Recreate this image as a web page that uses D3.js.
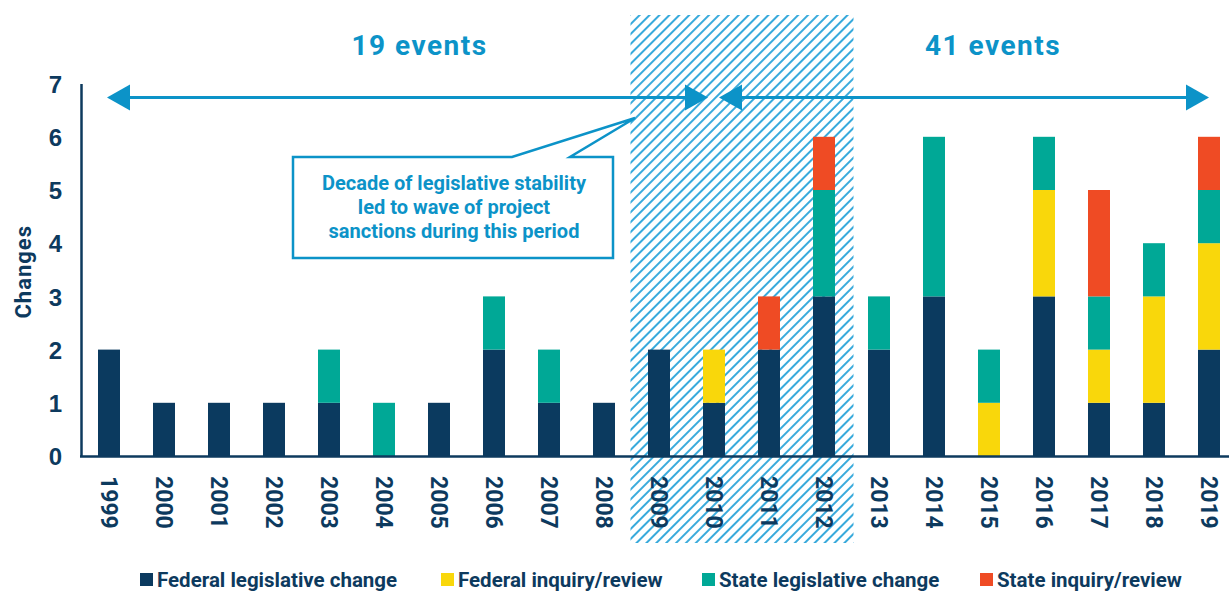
<!DOCTYPE html>
<html lang="en">
<head>
<meta charset="utf-8">
<title>Changes per year</title>
<script src="https://cdn.jsdelivr.net/npm/d3@7"></script>
<style>
  body { margin: 0; background: #fff; }
  svg { display: block; font-family: Roboto, "Liberation Sans", sans-serif; font-weight: 700; }
  .axis text { fill: #0d3a5e; font-size: 24px; font-weight: 700; }
  .axis path { stroke: #0d3a5e; stroke-width: 2.5; }
</style>
</head>
<body>
<script>
// data
const years = ["1999","2000","2001","2002","2003","2004","2005","2006","2007","2008",
               "2009","2010","2011","2012","2013","2014","2015","2016","2017","2018","2019"];
const fedLegislative = [2,1,1,1,1,0,1,2,1,1,2,1,2,3,2,3,0,3,1,1,2];
const fedInquiry     = [0,0,0,0,0,0,0,0,0,0,0,1,0,0,0,0,1,2,1,2,2];
const stateLegislative = [0,0,0,0,1,1,0,1,1,0,0,0,0,2,1,3,1,1,1,1,1];
const stateInquiry   = [0,0,0,0,0,0,0,0,0,0,0,0,1,1,0,0,0,0,2,0,1];
const seriesNames = ["Federal legislative change","Federal inquiry/review","State legislative change","State inquiry/review"];
const yTicks = [0,1,2,3,4,5,6,7];
const periodLabels = ["19 events","41 events"];
const calloutLines = ["Decade of legislative stability","led to wave of project","sanctions during this period"];

const w = 1229, h = 591;
const colors = ["#0b3a5f","#f9d70b","#00a896","#ef4b24"];
const blue = "#0c93c8";

const rows = years.map((yr, i) => ({
  year: yr,
  s0: fedLegislative[i], s1: fedInquiry[i], s2: stateLegislative[i], s3: stateInquiry[i]
}));
const keys = ["s0","s1","s2","s3"];
const stacked = d3.stack().keys(keys)(rows);

const x = d3.scalePoint().domain(years).range([81.5, 1236.5]).padding(0.5);
const step = x.step();
const barW = 22;
const y = d3.scaleLinear().domain([0, 7]).range([456, 83.6]);

const svg = d3.select("body").append("svg").attr("width", w).attr("height", h);

// hatch pattern
const defs = svg.append("defs");
defs.append("pattern")
  .attr("id", "hatch")
  .attr("patternUnits", "userSpaceOnUse")
  .attr("width", 7).attr("height", 10)
  .attr("patternTransform", "rotate(45)")
  .append("line")
  .attr("x1", 1).attr("x2", 1).attr("y1", 0).attr("y2", 10)
  .attr("stroke", "#2ea6da").attr("stroke-width", 1.9);

// hatched period 2009-2012
svg.append("rect")
  .attr("x", x("2009") - step / 2 - 1)
  .attr("y", 15)
  .attr("width", x("2012") - x("2009") + step + 3)
  .attr("height", 528)
  .attr("fill", "url(#hatch)");

// y axis
const yAxis = svg.append("g")
  .attr("class", "axis")
  .attr("transform", "translate(81,0)")
  .call(d3.axisLeft(y).tickValues(yTicks).tickSize(0).tickPadding(19).tickFormat(d3.format("d")));
yAxis.selectAll("text").attr("dy", "0.36em");

// bars
svg.append("g").selectAll("g")
  .data(stacked)
  .join("g")
  .attr("fill", (d, i) => colors[i])
  .selectAll("rect")
  .data(d => d.filter(s => s[1] > s[0]))
  .join("rect")
  .attr("x", d => x(d.data.year) - barW / 2)
  .attr("y", d => y(d[1]))
  .attr("width", barW)
  .attr("height", d => y(d[0]) - y(d[1]));

// x axis line
svg.append("line")
  .attr("x1", 80).attr("x2", w)
  .attr("y1", y(0) + 0.5).attr("y2", y(0) + 0.5)
  .attr("stroke", "#0d3a5e").attr("stroke-width", 2.5);

// year labels, rotated
svg.append("g").selectAll("text")
  .data(years)
  .join("text")
  .attr("transform", d => `translate(${x(d)},476) rotate(90)`)
  .attr("dy", "0.36em")
  .attr("fill", "#0d3a5e")
  .style("font-size", "23px")
  .text(d => d);

// y title
svg.append("text")
  .attr("transform", `translate(31,${y(3.5) + 2}) rotate(-90)`)
  .attr("text-anchor", "middle")
  .attr("fill", "#0d3a5e")
  .style("font-size", "22px")
  .style("letter-spacing", "1px")
  .text("Changes");

// period arrows
const arrowY = 97.5;
const head = (tipX, dir) => {
  const bx = tipX - dir * 23;
  return `M${tipX},${arrowY}L${bx},${arrowY - 13}L${bx},${arrowY + 13}Z`;
};
const periods = [
  { x0: x("1999") - 2, x1: x("2010") - 6, label: periodLabels[0], lx: (x("2004") + x("2005")) / 2 + 8 },
  { x0: x("2010") + 5, x1: x("2019"), label: periodLabels[1], lx: x("2015") + 4 }
];
const arr = svg.append("g");
periods.forEach(p => {
  arr.append("line")
    .attr("x1", p.x0 + 10).attr("x2", p.x1 - 10)
    .attr("y1", arrowY).attr("y2", arrowY)
    .attr("stroke", blue).attr("stroke-width", 3);
  arr.append("path").attr("d", head(p.x0, -1)).attr("fill", blue);
  arr.append("path").attr("d", head(p.x1, 1)).attr("fill", blue);
  arr.append("text")
    .attr("x", p.lx).attr("y", 55)
    .attr("text-anchor", "middle")
    .attr("fill", blue)
    .style("font-size", "28px")
    .style("letter-spacing", "1.5px")
    .text(p.label);
});

// callout box
const box = { x: 293, y: 157, w: 320, h: 101 };
svg.append("path")
  .attr("d", `M${box.x},${box.y}H512L635,118L570,${box.y}H${box.x + box.w}V${box.y + box.h}H${box.x}Z`)
  .attr("fill", "#fff")
  .attr("stroke", blue).attr("stroke-width", 2.5);
svg.append("g").selectAll("text")
  .data(calloutLines)
  .join("text")
  .attr("x", box.x + box.w / 2 + 1)
  .attr("y", (d, i) => 190 + i * 24)
  .attr("text-anchor", "middle")
  .attr("fill", blue)
  .style("font-size", "20px")
  .text(d => d);

// legend
const legendX = [140, 441, 702, 980];
const legend = svg.append("g").selectAll("g")
  .data(seriesNames)
  .join("g")
  .attr("transform", (d, i) => `translate(${legendX[i]},573)`);
legend.append("rect")
  .attr("width", 13).attr("height", 13)
  .attr("fill", (d, i) => colors[i]);
legend.append("text")
  .attr("x", 17).attr("y", 13.5)
  .attr("fill", "#0d3a5e")
  .style("font-size", "20.5px")
  .text(d => d);
</script>
</body>
</html>
